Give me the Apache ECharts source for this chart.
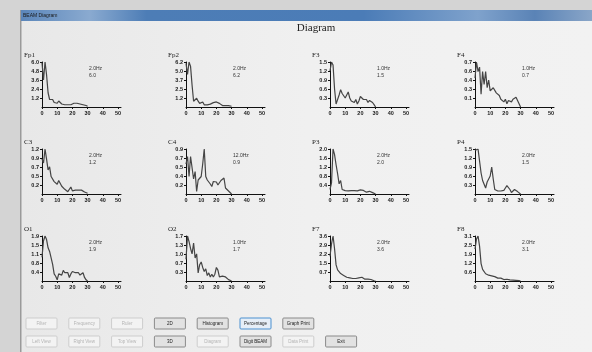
<!DOCTYPE html>
<html>
<head>
<meta charset="utf-8">
<script src="https://cdn.jsdelivr.net/npm/echarts@6/dist/echarts.min.js"></script>
<style>
  html, body { margin: 0; padding: 0; background: #d2d2d2; }
  #chart { width: 592px; height: 352px; }
</style>
</head>
<body>
<div id="chart"></div>
<script>
// Frequency bins (Hz) shared by every channel spectrum
const freqs = [0,1,2,3,4,5,6,7,8,9,10,11,12,13,14,15,16,17,18,19,20,21,22,23,24,25,26,27,28,29,30];

// Channel names in display order (4 columns x 3 rows)
const channels = ['Fp1','Fp2','F3','F4','C3','C4','P3','P4','O1','O2','F7','F8'];

// Spectral power per channel, one value per frequency bin
const fp1 = [5.9,3.6,6.0,4.3,1.9,1.0,0.8,1.0,0.6,0.8,0.5,0.8,0.6,0.4,0.3,0.3,0.2,0.3,0.4,0.3,0.3,0.5,0.3,0.5,0.6,0.4,0.5,0.3,0.4,0.2,0.1];
const fp2 = [6.0,4.5,6.2,5.6,3.0,0.8,0.6,1.2,0.8,0.5,0.4,0.7,0.3,0.4,0.3,0.3,0.4,0.5,0.6,0.7,0.7,0.6,0.5,0.3,0.2,0.3,0.2,0.3,0.2,0.3,0.1];
const f3  = [1.2,1.5,1.4,0.6,0.1,0.05,0.4,0.58,0.45,0.5,0.3,0.35,0.5,0.3,0.2,0.25,0.15,0.25,0.1,0.2,0.35,0.3,0.25,0.2,0.25,0.15,0.22,0.25,0.15,0.08,0.0];
const f4  = [0.45,0.7,0.55,0.62,0.2,0.55,0.35,0.55,0.3,0.42,0.25,0.22,0.3,0.28,0.22,0.2,0.18,0.12,0.15,0.08,0.12,0.05,0.1,0.12,0.08,0.12,0.14,0.15,0.1,0.05,0.0];
const c3  = [0.9,0.8,1.16,0.9,0.62,0.7,0.45,0.5,0.32,0.3,0.25,0.35,0.3,0.2,0.15,0.12,0.1,0.06,0.1,0.18,0.08,0.12,0.1,0.11,0.1,0.09,0.1,0.06,0.05,0.03,0.02];
const c4  = [0.6,0.75,0.35,0.75,0.72,0.3,0.45,0.05,0.28,0.3,0.35,0.6,0.9,0.35,0.28,0.3,0.2,0.15,0.25,0.22,0.24,0.18,0.22,0.27,0.25,0.32,0.12,0.1,0.06,0.08,0.0];
const p3  = [0.2,0.5,2.0,1.75,1.3,0.9,0.45,0.6,0.2,0.12,0.15,0.1,0.14,0.12,0.15,0.1,0.15,0.12,0.14,0.15,0.18,0.2,0.16,0.1,0.08,0.15,0.12,0.14,0.06,0.03,0.0];
const p4  = [1.45,1.48,1.5,1.1,0.7,0.45,0.5,0.2,0.4,0.5,0.6,0.9,0.5,0.15,0.12,0.1,0.15,0.1,0.1,0.12,0.2,0.28,0.25,0.15,0.05,0.1,0.15,0.12,0.08,0.03,0.0];
const o1  = [1.0,1.7,1.9,1.75,1.4,1.25,1.3,0.7,0.3,0.2,0.05,0.3,0.35,0.25,0.45,0.35,0.3,0.35,0.15,0.3,0.4,0.45,0.35,0.3,0.35,0.25,0.3,0.35,0.15,0.05,0.0];
const o2  = [0.8,1.66,1.45,1.2,1.0,1.4,0.85,1.0,0.3,0.6,0.7,0.5,0.35,0.45,0.2,0.3,0.15,0.25,0.15,0.25,0.5,0.4,0.15,0.15,0.18,0.2,0.15,0.1,0.05,0.02,0.0];
const f7  = [2.0,3.0,3.63,2.6,1.3,0.9,1.0,0.6,0.5,0.45,0.5,0.3,0.35,0.25,0.3,0.2,0.25,0.2,0.3,0.25,0.2,0.3,0.2,0.15,0.2,0.15,0.1,0.12,0.05,0.02,0.0];
const f8  = [2.2,2.9,3.1,2.4,1.2,0.8,0.9,0.5,0.6,0.4,0.3,0.35,0.25,0.3,0.2,0.2,0.15,0.2,0.15,0.1,0.15,0.12,0.1,0.08,0.1,0.06,0.05,0.04,0.03,0.02,0.0];

const spectra = [fp1, fp2, f3, f4, c3, c4, p3, p4, o1, o2, f7, f8];

// Frequency axis tick labels
const xTicks = [0,10,20,30,40,50];

// Control buttons along the bottom of the window
const buttonsRow1 = ['Filter','Frequency','Ruler','2D','Histogram','Percentage','Graph Print'];
const buttonsRow2 = ['Left View','Right View','Top View','3D','Diagram','Digit BEAM','Data Print','Exit'];
const enabledButtons = ['2D','Histogram','Percentage','Graph Print','3D','Digit BEAM','Exit'];

// ---- layout ----
const colLeft = [42, 186, 330, 475];
const rowTop = [62, 149, 236];
const plotH = 45;
const plotW = 79;          // 0..52 Hz
const AXIS_FONT = 'Liberation Sans';

const grids = [], xAxes = [], yAxes = [], series = [], graphics = [];

// window chrome
graphics.push(
  { type: 'rect', z: -20, shape: { x: 0, y: 0, width: 592, height: 352 }, style: { fill: '#d4d4d4' } },
  { type: 'rect', z: -19, shape: { x: 21, y: 10, width: 571, height: 342 },
    style: { fill: new echarts.graphic.LinearGradient(0, 0, 1, 0, [
      { offset: 0, color: '#e8e8e8' }, { offset: 0.5, color: '#f0f0f0' }, { offset: 1, color: '#f2f2f2' }]) } },
  { type: 'rect', z: -18, shape: { x: 20, y: 10, width: 1.5, height: 342 }, style: { fill: '#9a9a9a' } },
  { type: 'rect', z: -18, shape: { x: 21, y: 10, width: 571, height: 11 },
    style: { fill: new echarts.graphic.LinearGradient(0, 0, 1, 0, [
      { offset: 0, color: '#5b86ba' }, { offset: 0.12, color: '#8aaad0' }, { offset: 0.22, color: '#4d7db6' },
      { offset: 0.6, color: '#4b7cb7' }, { offset: 0.8, color: '#7fa2cc' }, { offset: 0.9, color: '#5a83b6' },
      { offset: 1, color: '#8aa6c8' }]) } },
  { type: 'text', z: 5, style: { text: 'BEAM Diagram', x: 23, y: 15.5, font: '5px Liberation Sans', fill: '#1a1a1a',
    textAlign: 'left', textVerticalAlign: 'middle' } },
  { type: 'text', z: 5, style: { text: 'Diagram', x: 316, y: 28, font: '11px Liberation Serif', fill: '#222',
    textAlign: 'center', textVerticalAlign: 'middle' } }
);

channels.forEach((name, i) => {
  const col = i % 4, row = Math.floor(i / 4);
  const vals = spectra[i];
  let peakIdx = 0;
  vals.forEach((v, k) => { if (v > vals[peakIdx]) peakIdx = k; });
  const peak = vals[peakIdx];
  const yTicks = [1, 2, 3, 4, 5].map(k => peak * k / 5);
  const left = colLeft[col], top = rowTop[row];

  grids.push({ left: left, top: top, width: plotW, height: plotH, containLabel: false });
  xAxes.push({
    type: 'value', gridIndex: i, min: 0, max: 52,
    axisLine: { show: true, lineStyle: { color: '#111', width: 1 } },
    axisTick: { show: true, length: 2, customValues: xTicks, lineStyle: { color: '#111' } },
    axisLabel: { customValues: xTicks, fontSize: 5.5, fontWeight: 'bold', color: '#1a1a1a', margin: 3, fontFamily: AXIS_FONT },
    splitLine: { show: false }
  });
  yAxes.push({
    type: 'value', gridIndex: i, min: 0, max: peak,
    axisLine: { show: true, lineStyle: { color: '#111', width: 1 } },
    axisTick: { show: true, length: 2, customValues: yTicks, lineStyle: { color: '#111' } },
    axisLabel: { customValues: yTicks, formatter: v => v.toFixed(1), fontSize: 5.5, fontWeight: 'bold',
      color: '#1a1a1a', margin: 3, fontFamily: AXIS_FONT },
    splitLine: { show: false }
  });
  series.push({
    type: 'line', name: name, xAxisIndex: i, yAxisIndex: i,
    data: freqs.map((f, k) => [f, vals[k]]),
    showSymbol: false, symbol: 'none', silent: true,
    lineStyle: { color: '#454545', width: 1.2 }
  });

  // channel name and peak annotation
  graphics.push(
    { type: 'text', style: { text: name, x: left - 18, y: top - 7, font: '7px Liberation Serif', fill: '#222',
      textAlign: 'left', textVerticalAlign: 'middle' } },
    { type: 'text', style: { text: freqs[peakIdx].toFixed(1) + 'Hz', x: left + 47, y: top + 7,
      font: '5px Liberation Sans', fill: '#333', textAlign: 'left', textVerticalAlign: 'middle' } },
    { type: 'text', style: { text: peak.toFixed(1), x: left + 47, y: top + 14,
      font: '5px Liberation Sans', fill: '#333', textAlign: 'left', textVerticalAlign: 'middle' } }
  );
});

// bottom button bar
function addButton(label, idx, y) {
  const x = 26 + idx * 42.8, w = 31, h = 11;
  const on = enabledButtons.includes(label);
  const focused = label === 'Percentage';
  graphics.push({
    type: 'rect', shape: { x: x, y: y, width: w, height: h, r: 1 },
    style: {
      fill: focused ? '#e6eef7' : (on ? '#e2e2e2' : '#f3f3f3'),
      stroke: focused ? '#4a90d0' : (on ? '#8a8a8a' : '#cdcdcd'),
      lineWidth: 1
    }
  });
  graphics.push({
    type: 'text', style: { text: label, x: x + w / 2, y: y + h / 2 + 0.5, font: '4.5px Liberation Sans',
      fill: on ? '#222' : '#b4b4b4', textAlign: 'center', textVerticalAlign: 'middle' }
  });
}
buttonsRow1.forEach((b, i) => addButton(b, i, 318));
buttonsRow2.forEach((b, i) => addButton(b, i, 336));

const chart = echarts.init(document.getElementById('chart'), null, { renderer: 'canvas' });
chart.setOption({
  animation: false,
  backgroundColor: '#d4d4d4',
  grid: grids,
  xAxis: xAxes,
  yAxis: yAxes,
  series: series,
  graphic: { elements: graphics }
});
</script>
</body>
</html>
